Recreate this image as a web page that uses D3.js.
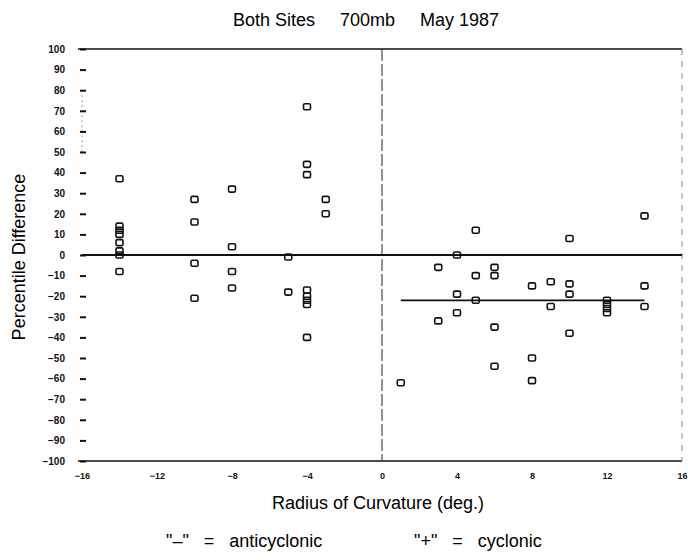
<!DOCTYPE html>
<html>
<head>
<meta charset="utf-8">
<script src="https://cdn.jsdelivr.net/npm/d3@7"></script>
<style>
  body { margin: 0; background: #fff; }
  svg { display: block; font-family: "Liberation Sans", Arial, sans-serif; }
</style>
</head>
<body>
<svg id="chart" width="688" height="560"></svg>
<script>
// axis ticks
const xTickValues = [-16, -12, -8, -4, 0, 4, 8, 12, 16];
const yTickValues = d3.range(-100, 101, 10);

// anticyclonic cases (negative radius)
const antiRadius = [-14, -14, -14, -14, -14, -14, -14, -14,
  -10, -10, -10, -10,
  -8, -8, -8, -8,
  -5, -5,
  -4, -4, -4, -4, -4, -4, -4, -4,
  -3, -3];
const antiDiff = [37, 14, 12, 10, 6, 2, 0, -8,
  27, 16, -4, -21,
  32, 4, -8, -16,
  -1, -18,
  72, 44, 39, -17, -20, -22, -24, -40,
  27, 20];

// cyclonic cases (positive radius)
const cycRadius = [1,
  3, 3,
  4, 4, 4,
  5, 5, 5,
  6, 6, 6, 6,
  8, 8, 8,
  9, 9,
  10, 10, 10, 10,
  12, 12, 12, 12,
  14, 14, 14];
const cycDiff = [-62,
  -6, -32,
  0, -19, -28,
  12, -10, -22,
  -6, -10, -35, -54,
  -15, -50, -61,
  -13, -25,
  8, -14, -19, -38,
  -22, -24, -26, -28,
  19, -15, -25];

// reference / mean lines
const lineFrom = [-16, 1];
const lineTo = [16, 14];
const lineLevel = [0, -22];

const svg = d3.select('#chart');
const plotLeft = 82, plotRight = 682, plotTop = 49, plotBottom = 461;

const x = d3.scaleLinear().domain([-16, 16]).range([plotLeft, plotRight]);
const y = d3.scaleLinear().domain([-100, 100]).range([plotBottom, plotTop]);

// title
svg.append('text')
  .attr('x', 366).attr('y', 26)
  .attr('text-anchor', 'middle')
  .attr('font-size', 18)
  .style('white-space', 'pre')
  .text('Both Sites     700mb     May 1987');

// frame top and bottom
svg.append('g').selectAll('line')
  .data([100, -100])
  .join('line')
  .attr('x1', x(-16) - 4).attr('x2', x(16))
  .attr('y1', d => y(d)).attr('y2', d => y(d))
  .attr('stroke', '#111').attr('stroke-width', 1.7);

// vertical line at zero, faint right edge and left stub
svg.append('line')
  .attr('x1', x(0)).attr('x2', x(0))
  .attr('y1', y(100)).attr('y2', y(-100))
  .attr('stroke', '#222').attr('stroke-width', 1)
  .attr('stroke-dasharray', '12 3');
svg.append('line')
  .attr('x1', x(16)).attr('x2', x(16))
  .attr('y1', y(100)).attr('y2', y(-100))
  .attr('stroke', '#888').attr('stroke-width', 1)
  .attr('stroke-dasharray', '6 6');
svg.append('line')
  .attr('x1', x(-16)).attr('x2', x(-16))
  .attr('y1', y(80)).attr('y2', y(48))
  .attr('stroke', '#999').attr('stroke-width', 1)
  .attr('stroke-dasharray', '2 3');

// y axis: ticks only
const yAxis = svg.append('g')
  .attr('transform', `translate(${plotLeft + 4},0)`)
  .call(d3.axisLeft(y).tickValues(yTickValues).tickSize(6).tickPadding(15)
    .tickFormat(d3.format('d')));
yAxis.select('.domain').remove();
yAxis.selectAll('.tick line').attr('stroke', '#111').attr('stroke-width', 2);
yAxis.selectAll('.tick text')
  .attr('font-size', 10).attr('font-weight', 'bold')
  .attr('font-family', '"Liberation Sans", Arial, sans-serif')
  .attr('fill', '#111');

// x axis: labels only
const xAxis = svg.append('g')
  .attr('transform', `translate(0,${plotBottom})`)
  .call(d3.axisBottom(x).tickValues(xTickValues).tickSize(0).tickPadding(12)
    .tickFormat(d3.format('d')));
xAxis.select('.domain').remove();
xAxis.selectAll('.tick text')
  .attr('font-size', 9).attr('font-weight', 'bold')
  .attr('font-family', '"Liberation Sans", Arial, sans-serif')
  .attr('fill', '#111');

// axis titles
svg.append('text')
  .attr('x', 378).attr('y', 509)
  .attr('text-anchor', 'middle')
  .attr('font-size', 18)
  .text('Radius of Curvature (deg.)');
svg.append('text')
  .attr('transform', 'translate(25,257) rotate(-90)')
  .attr('text-anchor', 'middle')
  .attr('font-size', 18)
  .text('Percentile Difference');

// legend note
svg.append('text')
  .attr('x', 166).attr('y', 547)
  .attr('font-size', 18)
  .style('white-space', 'pre')
  .text('"–"   =   anticyclonic');
svg.append('text')
  .attr('x', 414).attr('y', 547)
  .attr('font-size', 18)
  .style('white-space', 'pre')
  .text('"+"   =   cyclonic');

// reference and mean lines
svg.append('g').selectAll('line')
  .data(lineLevel)
  .join('line')
  .attr('x1', (d, i) => x(lineFrom[i])).attr('x2', (d, i) => x(lineTo[i]))
  .attr('y1', d => y(d)).attr('y2', d => y(d))
  .attr('stroke', '#111').attr('stroke-width', 1.8);

// points
const points = antiRadius.map((r, i) => [r, antiDiff[i]])
  .concat(cycRadius.map((r, i) => [r, cycDiff[i]]));

svg.append('g').selectAll('rect')
  .data(points)
  .join('rect')
  .attr('x', d => x(d[0]) - 3.5)
  .attr('y', d => y(d[1]) - 3)
  .attr('width', 7).attr('height', 6)
  .attr('rx', 1.5)
  .attr('fill', 'none')
  .attr('stroke', '#111').attr('stroke-width', 1.6);
</script>
</body>
</html>
